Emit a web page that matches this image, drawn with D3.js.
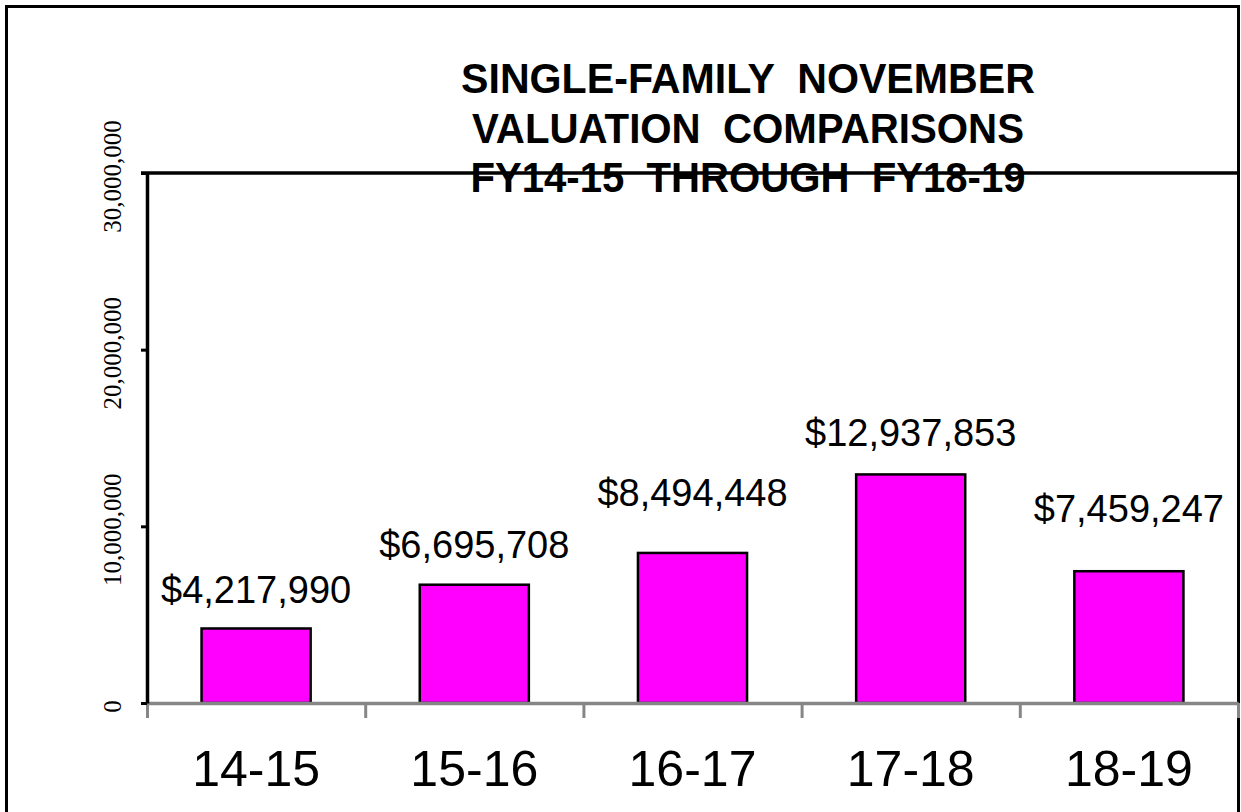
<!DOCTYPE html>
<html>
<head>
    <meta charset="utf-8">
    <title>Single-Family November Valuation</title>
    <script src="https://cdnjs.cloudflare.com/ajax/libs/d3/7.8.5/d3.min.js"></script>
    <style>
        body { margin: 0; background: #fff; }
        svg { display: block; }
    </style>
</head>
<body>
<script type="text/javascript">
    var categories = ["14-15", "15-16", "16-17", "17-18", "18-19"];
    var values = [4217990, 6695708, 8494448, 12937853, 7459247];
    var yTicks = [0, 10000000, 20000000, 30000000];
    var titleLines = ["SINGLE-FAMILY  NOVEMBER", "VALUATION  COMPARISONS", "FY14-15  THROUGH  FY18-19"];

    // excel placed some of the labels higher than others
    var labelGap = [25, 27, 47, 28, 49];

    var width = 1241, height = 812;
    var plotLeft = 147, plotRight = 1238, plotTop = 173, plotBottom = 703;

    var svg = d3.select("body").append("svg")
        .attr("width", width)
        .attr("height", height);

    // outer frame
    svg.append("rect")
        .attr("x", 6.5).attr("y", 6.5)
        .attr("width", 1232).attr("height", 840)
        .attr("fill", "none")
        .attr("stroke", "#000")
        .attr("stroke-width", 3);

    var xScale = d3.scaleBand()
        .domain(categories)
        .range([plotLeft, plotRight])
        .paddingInner(0.5)
        .paddingOuter(0.25);

    var yScale = d3.scaleLinear()
        .domain([0, 30000000])
        .range([plotBottom, plotTop]);

    // tick marks on category boundaries
    var xEdges = d3.scaleLinear()
        .domain([0, categories.length])
        .range([plotLeft, plotRight]);

    // bars
    svg.selectAll("rect.bar")
        .data(values)
        .enter()
        .append("rect")
        .attr("class", "bar")
        .attr("x", function (d, i) { return xScale(categories[i]); })
        .attr("y", function (d) { return yScale(d); })
        .attr("width", xScale.bandwidth())
        .attr("height", function (d) { return yScale(0) - yScale(d); })
        .attr("fill", "#ff00ff")
        .attr("stroke", "#000")
        .attr("stroke-width", 2.5);

    // value labels
    svg.selectAll("text.val")
        .data(values)
        .enter()
        .append("text")
        .attr("class", "val")
        .attr("x", function (d, i) { return xScale(categories[i]) + xScale.bandwidth() / 2; })
        .attr("y", function (d, i) { return yScale(d) - labelGap[i]; })
        .attr("text-anchor", "middle")
        .style("font-family", "'Liberation Sans', Arial, sans-serif")
        .style("font-size", "38px")
        .text(function (d) { return "$" + d3.format(",")(d); });

    // x axis: grey line + boundary ticks
    var xAxis = d3.axisBottom(xEdges)
        .tickValues(d3.range(categories.length + 1))
        .tickSize(15)
        .tickSizeOuter(0)
        .tickFormat("");

    var gx = svg.append("g")
        .attr("transform", "translate(0," + plotBottom + ")")
        .call(xAxis);
    gx.select(".domain").attr("stroke", "#868686").attr("stroke-width", 3.5);
    gx.selectAll(".tick line").attr("stroke", "#868686").attr("stroke-width", 3);

    // category labels
    var xLabels = d3.axisBottom(xScale).tickSize(0).tickPadding(0);
    var gxl = svg.append("g")
        .attr("transform", "translate(0," + plotBottom + ")")
        .call(xLabels);
    gxl.select(".domain").remove();
    gxl.selectAll("text")
        .attr("y", 83)
        .attr("dy", null)
        .style("font-family", "'Liberation Sans', Arial, sans-serif")
        .style("font-size", "50px")
        .attr("fill", "#000");

    // y axis
    var yAxis = d3.axisLeft(yScale)
        .tickValues(yTicks)
        .tickSize(6)
        .tickSizeOuter(0)
        .tickFormat(d3.format(","));

    var gy = svg.append("g")
        .attr("transform", "translate(" + plotLeft + ",0)")
        .call(yAxis);
    gy.select(".domain").attr("stroke", "#000").attr("stroke-width", 3.5);
    gy.selectAll(".tick line").attr("stroke", "#000").attr("stroke-width", 3);
    gy.selectAll(".tick text")
        .attr("x", null).attr("dy", null)
        .attr("text-anchor", "middle")
        .attr("transform", "translate(-26,3) rotate(-90)")
        .style("font-family", "'Liberation Serif', 'Times New Roman', serif")
        .style("font-size", "25px")
        .attr("fill", "#000");

    // title
    var titleWidths = [574, 552, 555];
    svg.selectAll("text.title")
        .data(titleLines)
        .enter()
        .append("text")
        .attr("class", "title")
        .attr("x", 748)
        .attr("y", function (d, i) { return 93 + i * 49.5; })
        .attr("text-anchor", "middle")
        .attr("textLength", function (d, i) { return titleWidths[i]; })
        .attr("lengthAdjust", "spacingAndGlyphs")
        .style("font-family", "'Liberation Sans', Arial, sans-serif")
        .style("font-weight", "bold")
        .style("font-size", "42px")
        .style("white-space", "pre")
        .text(function (d) { return d; });

    // top border of plot area
    svg.append("line")
        .attr("x1", plotLeft - 6).attr("x2", plotRight)
        .attr("y1", plotTop).attr("y2", plotTop)
        .attr("stroke", "#000")
        .attr("stroke-width", 3.5);
</script>
</body>
</html>
